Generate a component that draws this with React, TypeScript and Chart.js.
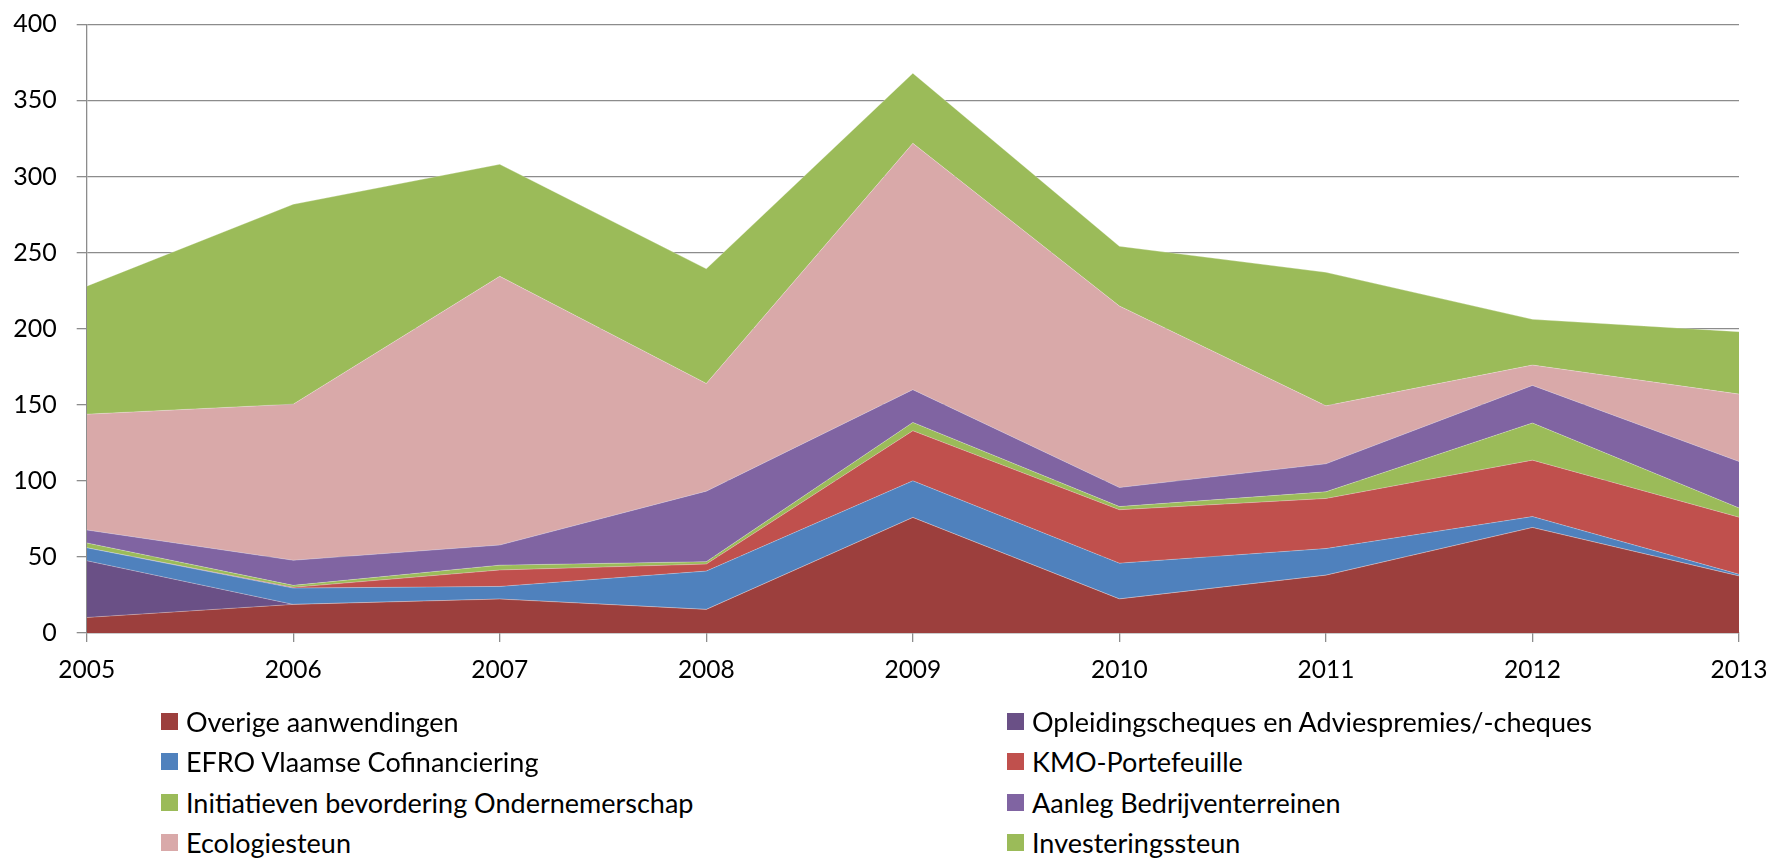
import React, { useEffect, useRef } from 'react';
import { Chart, registerables } from 'chart.js';

Chart.register(...registerables);

const years = ['2005', '2006', '2007', '2008', '2009', '2010', '2011', '2012', '2013'];

const overigeAanwendingen = [10.2, 18.8, 22.3, 15.5, 75.9, 22.4, 38.0, 69.3, 37.5];
const opleidingscheques = [37.3, 0, 0, 0, 0, 0, 0, 0, 0];
const efroCofinanciering = [8.5, 10.7, 8.3, 25.2, 24.1, 23.5, 17.5, 7.2, 1.1];
const kmoPortefeuille = [0, 0.5, 10.8, 4.6, 32.9, 35.1, 32.9, 37.1, 37.5];
const initiatievenOndernemerschap = [3.2, 1.3, 3.2, 1.6, 5.5, 2.1, 4.4, 24.4, 6.1];
const aanlegBedrijventerreinen = [8.5, 16.5, 13.2, 46.3, 21.5, 12.5, 18.4, 24.7, 30.5];
const ecologiesteun = [76.1, 102.6, 176.6, 70.8, 161.9, 119.3, 38.1, 13.4, 44.3];
const investeringssteun = [84.1, 131.3, 73.6, 75.3, 46.0, 39.2, 87.7, 30.0, 41.0];

const yTicks = [0, 50, 100, 150, 200, 250, 300, 350, 400];

const seriesNames = [
  'Overige aanwendingen',
  'Opleidingscheques en Adviespremies/-cheques',
  'EFRO Vlaamse Cofinanciering',
  'KMO-Portefeuille',
  'Initiatieven bevordering Ondernemerschap',
  'Aanleg Bedrijventerreinen',
  'Ecologiesteun',
  'Investeringssteun',
];
const seriesValues = [
  overigeAanwendingen,
  opleidingscheques,
  efroCofinanciering,
  kmoPortefeuille,
  initiatievenOndernemerschap,
  aanlegBedrijventerreinen,
  ecologiesteun,
  investeringssteun,
];
const seriesColors = ['#9C3F3D', '#6A5086', '#4F81BD', '#C0504D', '#9BBB59', '#8064A2', '#D9A9A9', '#9BBB59'];

const FONT = 'Lato, "Open Sans", sans-serif';

export default function App() {
  const canvasRef = useRef<HTMLCanvasElement | null>(null);

  useEffect(() => {
    if (!canvasRef.current) return;
    const chart = new Chart(canvasRef.current, {
      type: 'line',
      data: {
        labels: years,
        datasets: seriesNames.map((name, i) => ({
          label: name,
          data: seriesValues[i],
          backgroundColor: seriesColors[i],
          borderColor: 'rgba(255,255,255,0.35)',
          borderWidth: 0.8,
          pointRadius: 0,
          pointHoverRadius: 0,
          tension: 0,
          fill: i === 0 ? 'origin' : '-1',
        })),
      },
      options: {
        animation: false,
        responsive: true,
        maintainAspectRatio: false,
        layout: { padding: { top: 24.3, right: 34, bottom: 0, left: 0 } },
        plugins: {
          legend: { display: false },
          tooltip: { enabled: false },
        },
        scales: {
          x: {
            type: 'category',
            offset: false,
            grid: {
              display: true,
              drawOnChartArea: false,
              drawTicks: true,
              tickLength: 9,
              color: '#8C8C8C',
              lineWidth: 1.3,
            },
            border: { display: true, color: '#8C8C8C', width: 1.3 },
            ticks: {
              color: '#000',
              font: { family: FONT, size: 24.5 },
              padding: 13,
              maxRotation: 0,
              autoSkip: false,
            },
            afterFit: (s: any) => {
              s.height = 77;
              s.paddingLeft = 0;
              s.paddingRight = 0;
            },
          },
          y: {
            stacked: true,
            min: 0,
            max: 400,
            afterBuildTicks: (s: any) => {
              s.ticks = yTicks.map((v) => ({ value: v }));
            },
            grid: {
              color: '#8C8C8C',
              lineWidth: 1.3,
              tickLength: 10,
              drawTicks: true,
            },
            border: { display: true, color: '#8C8C8C', width: 1.3 },
            ticks: {
              color: '#000',
              font: { family: FONT, size: 25 },
              padding: 20,
            },
            afterFit: (s: any) => {
              s.width = 86.7;
              s.paddingTop = 0;
              s.paddingBottom = 0;
            },
          },
        },
      },
    });
    return () => chart.destroy();
  }, []);

  const rowCenters = [721, 761.5, 802, 842.5];
  const colLefts = [161, 1007];

  return (
    <div
      style={{
        position: 'fixed',
        left: 0,
        top: 0,
        width: 1773,
        height: 859,
        overflow: 'hidden',
        background: '#fff',
      }}
    >
      <div style={{ position: 'absolute', left: 0, top: 0, width: 1773, height: 710 }}>
        <canvas ref={canvasRef} />
      </div>
      {seriesNames.map((name, i) => {
        const row = Math.floor(i / 2);
        const col = i % 2;
        return (
          <div
            key={name}
            style={{
              position: 'absolute',
              left: colLefts[col],
              top: rowCenters[row] - 15,
              height: 30,
              display: 'flex',
              alignItems: 'center',
              fontFamily: FONT,
              fontSize: 27,
              color: '#000',
              whiteSpace: 'nowrap',
            }}
          >
            <span
              style={{
                display: 'inline-block',
                width: 17,
                height: 17,
                background: seriesColors[i],
                marginRight: 8,
              }}
            />
            <span>{name}</span>
          </div>
        );
      })}
    </div>
  );
}
